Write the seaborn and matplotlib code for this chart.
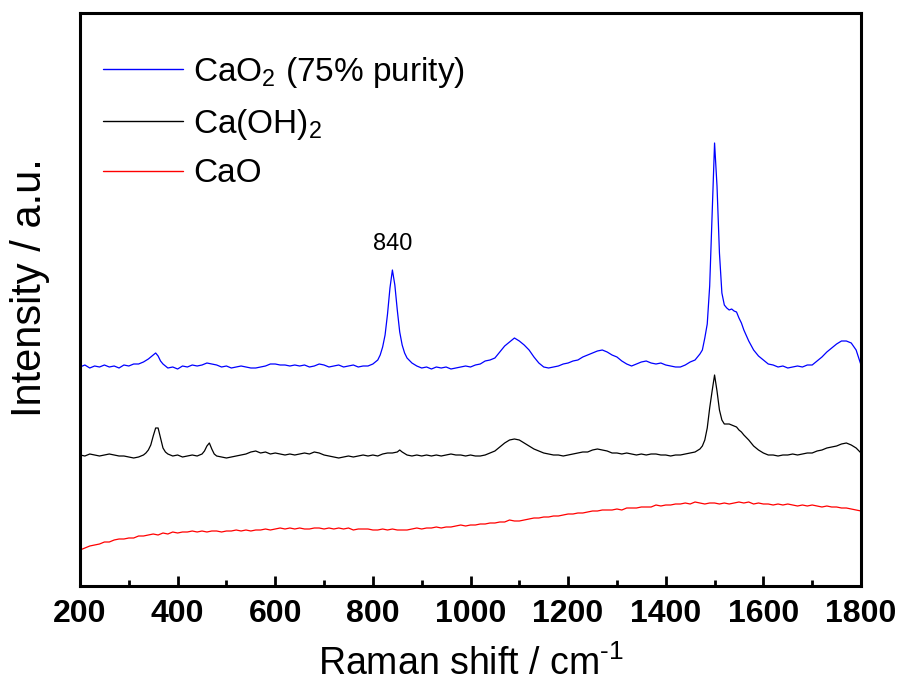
import matplotlib
matplotlib.use("Agg")
import matplotlib.pyplot as plt
import seaborn as sns
import pandas as pd
from matplotlib.ticker import MultipleLocator
from matplotlib import font_manager

# ---------------- data ----------------
blue_shift = [200,210,220,230,240,250,260,270,280,290,300,310,320,330,340,345,350,355,360,365,370,380,390,400,
              410,420,430,440,450,460,470,480,490,500,510,520,530,540,550,560,570,580,590,600,610,620,630,640,
              650,660,670,680,690,700,710,720,730,740,750,760,770,780,790,800,810,815,820,825,830,835,840,845,
              850,855,860,865,870,880,890,900,910,920,930,940,950,960,970,980,990,1000,1010,1020,1030,1040,1050,
              1060,1070,1080,1090,1100,1110,1120,1130,1140,1150,1160,1170,1180,1190,1200,1210,1220,1230,1240,
              1250,1260,1270,1280,1290,1300,1310,1320,1330,1340,1350,1360,1370,1380,1390,1400,1410,1420,1430,
              1440,1450,1460,1470,1475,1480,1485,1490,1495,1500,1505,1510,1515,1520,1525,1530,1535,1540,1545,
              1550,1555,1560,1570,1580,1590,1600,1610,1620,1630,1640,1650,1660,1670,1680,1690,1700,1710,1720,
              1730,1740,1750,1760,1770,1780,1790,1800]
blue_int = [219,221,218,220,219,221,219,220,218,221,220,222,222,224,227,229,231,233,230,225,222,218,219,217,
            220,219,221,220,221,223,222,221,219,220,218,219,220,219,218,218,219,220,222,222,221,221,220,221,
            220,221,219,220,222,221,219,220,221,219,220,221,219,220,220,222,226,231,239,251,272,298,316,301,
            276,254,241,233,228,223,220,218,219,217,219,218,219,217,218,219,220,219,221,222,225,226,228,
            234,240,244,248,245,241,236,229,223,219,218,219,220,222,223,225,226,229,231,
            233,235,236,234,231,229,225,222,220,222,224,225,223,222,223,221,220,219,219,
            221,224,226,232,236,248,262,300,370,443,400,333,293,281,278,276,277,275,274,
            268,263,256,245,236,230,226,222,221,219,220,218,219,220,219,221,221,225,229,
            234,238,242,245,245,243,236,221]

black_shift = [200,210,220,230,240,250,260,270,280,290,300,310,320,330,335,340,345,350,355,360,365,370,375,380,
               390,400,410,420,430,440,450,455,460,465,470,475,480,490,500,510,520,530,540,550,560,570,580,590,
               600,610,620,630,640,650,660,670,680,690,700,710,720,730,740,750,760,770,780,790,800,810,820,830,
               840,850,855,860,870,880,890,900,910,920,930,940,950,960,970,980,990,1000,1010,1020,1030,1040,
               1050,1060,1070,1080,1090,1100,1110,1120,1130,1140,1150,1160,1170,1180,1190,1200,1210,1220,1230,
               1240,1250,1260,1270,1280,1290,1300,1310,1320,1330,1340,1350,1360,1370,1380,1390,1400,1410,1420,
               1430,1440,1450,1460,1470,1475,1480,1485,1490,1495,1500,1505,1510,1515,1520,1525,1530,1535,1540,
               1545,1550,1555,1560,1570,1580,1590,1600,1610,1620,1630,1640,1650,1660,1670,1680,1690,1700,1710,
               1720,1730,1740,1750,1760,1770,1780,1790,1800]
black_int = [131,130,132,131,130,131,132,131,130,130,129,128,129,131,133,136,141,150,158,158,148,138,134,132,
             130,131,129,130,131,130,132,135,140,143,137,132,130,129,128,129,130,131,132,134,135,133,134,132,
             133,132,131,132,131,132,133,132,134,133,131,130,129,128,129,130,129,130,131,130,131,130,132,133,
             133,134,136,134,131,130,131,130,131,130,131,130,131,132,131,131,130,131,130,130,131,133,
             135,139,143,146,147,146,143,140,137,135,133,132,131,131,130,131,132,133,134,
             134,136,137,136,135,133,133,132,133,132,131,132,131,132,132,131,131,130,131,
             131,132,133,134,137,140,146,158,178,195,211,195,176,166,162,162,162,161,160,
             159,156,154,151,146,140,136,133,131,131,130,131,131,132,131,132,133,133,135,
             136,138,139,140,142,143,141,138,133]

red_shift = list(range(200, 1801, 10))
red_int = [36,38,40,41,42,44,44,46,47,47,48,48,50,50,51,52,51,53,52,54,53,54,54,55,54,55,54,55,55,54,
           55,55,56,55,56,55,56,56,57,56,57,58,57,58,57,58,57,57,58,58,57,58,57,58,57,58,56,57,57,57,
           56,56,57,56,57,56,56,56,57,58,57,58,58,59,58,59,59,60,61,60,61,61,62,62,63,63,64,64,66,65,
           65,66,67,68,68,69,69,70,70,71,72,72,73,73,74,75,75,76,76,76,77,76,78,78,78,79,79,79,81,80,
           81,81,82,82,83,82,84,83,82,83,83,82,83,82,83,84,83,84,82,83,82,82,81,82,81,82,81,80,81,80,
           81,80,79,80,79,79,78,78,77,76,75]

series_names = [r"CaO$_2$ (75% purity)", r"Ca(OH)$_2$", "CaO"]
series_colors = ["#0000ff", "#000000", "#ff0000"]
xticks = [200, 400, 600, 800, 1000, 1200, 1400, 1600, 1800]
peak_label = "840"
peak_label_pos = (840, 342)

# ---------------- build table ----------------
frames = []
for name, xs, ys in zip(series_names, [blue_shift, black_shift, red_shift], [blue_int, black_int, red_int]):
    n = min(len(xs), len(ys))
    frames.append(pd.DataFrame({"shift": xs[:n], "intensity": ys[:n], "sample": name}))
df = pd.concat(frames, ignore_index=True)

# ---------------- style ----------------
sns.set_theme(style="ticks")
installed = {f.name for f in font_manager.fontManager.ttflist}
narrow = "Liberation Sans Narrow" if "Liberation Sans Narrow" in installed else "Liberation Sans"
plt.rcParams["font.family"] = ["Liberation Sans", "DejaVu Sans"]
plt.rcParams["mathtext.fontset"] = "custom"
plt.rcParams["mathtext.rm"] = "Liberation Sans"
plt.rcParams["mathtext.default"] = "regular"
plt.rcParams["text.color"] = "black"
plt.rcParams["axes.labelcolor"] = "black"
plt.rcParams["xtick.color"] = "black"
plt.rcParams["ytick.color"] = "black"

fig = plt.figure(figsize=(9.04, 6.84), dpi=100)
ax = fig.add_axes([80/904, 1 - 586/684, 781/904, 573/684])

sns.lineplot(data=df, x="shift", y="intensity", hue="sample", hue_order=series_names,
             palette=dict(zip(series_names, series_colors)), estimator=None, sort=False,
             linewidth=0.9, ax=ax)

ax.set_xlim(200, 1800)
ax.set_ylim(0, 573)
ax.set_xticks(xticks)
ax.xaxis.set_minor_locator(MultipleLocator(100))
ax.set_yticks([])
ax.tick_params(axis="x", which="major", direction="in", length=7, width=2, pad=9, colors="black")
ax.tick_params(axis="x", which="minor", direction="in", length=4, width=2, colors="black")
for lab in ax.get_xticklabels():
    lab.set_fontfamily([narrow, "DejaVu Sans"])
    lab.set_fontweight("bold")
    lab.set_fontsize(23)
    lab.set_color("black")
for sp in ax.spines.values():
    sp.set_visible(True)
    sp.set_linewidth(2.2)
    sp.set_color("black")

ax.set_xlabel("Raman shift / cm$^{\u2010 1}$", fontsize=27, labelpad=12, color="black")
ax.set_ylabel("Intensity / a.u.", fontsize=30, color="black")
ax.yaxis.set_label_coords(-0.038, 0.52)

ax.text(peak_label_pos[0], peak_label_pos[1], peak_label, fontsize=17, ha="center", va="center",
        color="black")

leg = ax.legend(loc="upper left", bbox_to_anchor=((103 - 80) / 781, (586 - 55) / 573), frameon=False,
                fontsize=24, handlelength=2.4, handletextpad=0.3, labelspacing=0.5,
                borderaxespad=0, borderpad=0)
for line in leg.get_lines():
    line.set_linewidth(1.0)
for t in leg.get_texts():
    t.set_color("black")

fig.savefig("out.png", dpi=100)
